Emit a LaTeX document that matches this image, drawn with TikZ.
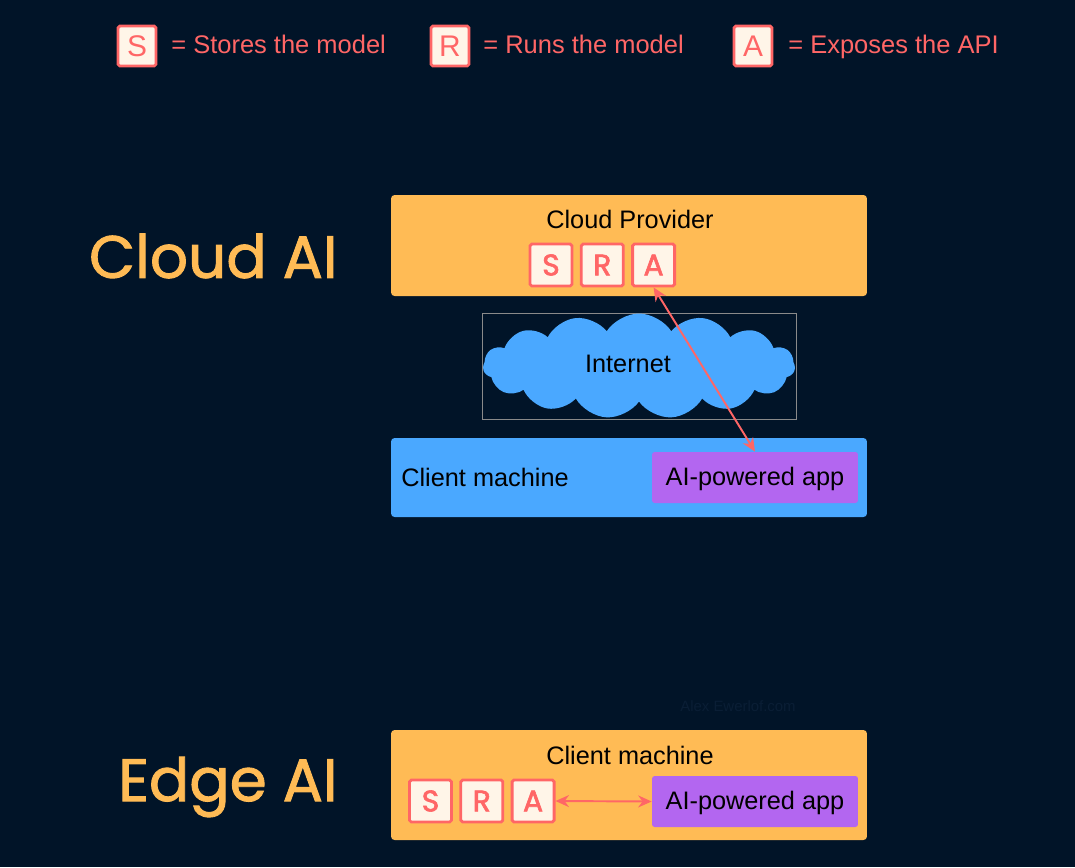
\documentclass[tikz,border=0pt]{standalone}
\usepackage{fontspec}
\setmainfont{Liberation Sans}
\newfontfamily\titlefont{Poppins}[FakeBold=1.5]
\newfontfamily\rolefont{Poppins}[FakeBold=2]
\usetikzlibrary{positioning,shapes.symbols,arrows.meta}
\definecolor{night}{HTML}{011428}
\definecolor{amber}{HTML}{FFBB55}
\definecolor{coral}{HTML}{FF6666}
\definecolor{cream}{HTML}{FFF5E8}
\definecolor{sky}{HTML}{4AA8FF}
\definecolor{violet}{HTML}{B366F0}
\definecolor{framegray}{HTML}{8A8A8A}
\definecolor{mark}{HTML}{0A1E35}

\tikzset{
  role/.style={draw=coral, fill=cream, line width=1.6pt, rounded corners=1pt,
    minimum size=0.84cm, inner sep=0pt, text=coral,
    font=\rolefont\fontsize{17}{17}\selectfont},
  keyrole/.style={role, minimum width=0.76cm, minimum height=0.8cm,
    font=\fontsize{17}{17}\selectfont},
  keytext/.style={text=coral, anchor=west, inner sep=0pt,
    text height=1.8ex, text depth=0.15ex, font=\fontsize{14.5}{16}\selectfont},
  host/.style={rounded corners=2pt, minimum width=9.52cm, inner sep=0pt},
  boxtext/.style={inner sep=0pt, text height=1.9ex, text depth=0.1ex,
    font=\fontsize{14.4}{16}\selectfont},
  app/.style={boxtext, fill=violet, rounded corners=1.5pt,
    minimum width=4.12cm, minimum height=1.02cm},
  heading/.style={text=amber, anchor=east, inner sep=0pt,
    font=\titlefont\fontsize{34}{40}\selectfont},
  link/.style={coral, line width=1.1pt,
    {Stealth[length=0.27cm,width=0.24cm]}-{Stealth[length=0.27cm,width=0.24cm]}},
}

\begin{document}
\begin{tikzpicture}[x=0.02cm,y=-0.02cm]
  \fill[night] (0,0) rectangle (1075,867);
  \node[text=mark, font=\fontsize{8.5}{8}\selectfont] (watermark) at (738,706) {Alex Ewerlof.com};

  % legend
  \node[keyrole] (keyS) at (137,46) {S};
  \node[keytext] (keyStext) at (171,46) {= Stores the model};
  \node[keyrole] (keyR) at (450,46) {R};
  \node[keytext] (keyRtext) at (483,46) {= Runs the model};
  \node[keyrole] (keyA) at (753,46) {A};
  \node[keytext] (keyAtext) at (788,46) {= Exposes the API};

  % cloud AI
  \node[heading] (cloudtitle) at (338,256) {Cloud AI};
  \node[host, fill=amber, minimum height=2.02cm] (provider) at (629,245.5) {};
  \node[boxtext] (providertext) at (630,220) {Cloud Provider};
  \node[role] (cloudS) at (551,265) {S};
  \node[role, right=0.13cm of cloudS] (cloudR) {R};
  \node[role, right=0.13cm of cloudR] (cloudA) {A};

  \node[draw=framegray, line width=0.5pt, minimum width=6.28cm, minimum height=2.12cm,
    inner sep=0pt] (netframe) at (639,366) {};
  \node[cloud, cloud puffs=15, cloud puff arc=115, cloud ignores aspect, fill=sky,
    minimum width=6.24cm, minimum height=2.1cm] (internet) at (639,366) {};
  \node[boxtext] (internettext) at (628,364) {Internet};

  \node[host, fill=sky, minimum height=1.58cm] (cloudclient) at (629,477.5) {};
  \node[boxtext, anchor=west] (cloudclienttext) at (401,478) {Client machine};
  \node[app] (cloudapp) at (755,477.5) {AI-powered app};
  \draw[link] (cloudA.south) -- (cloudapp.north);

  % edge AI
  \node[heading] (edgetitle) at (338,787) {Edge AI};
  \node[host, fill=amber, minimum height=2.2cm] (edgeclient) at (629,785) {};
  \node[boxtext] (edgeclienttext) at (630,756) {Client machine};
  \node[role] (edgeS) at (430.5,801) {S};
  \node[role, right=0.13cm of edgeS] (edgeR) {R};
  \node[role, right=0.13cm of edgeR] (edgeA) {A};
  \node[app] (edgeapp) at (755,801.5) {AI-powered app};
  \draw[link] (edgeA.east) -- (edgeapp.west);
\end{tikzpicture}
\end{document}
